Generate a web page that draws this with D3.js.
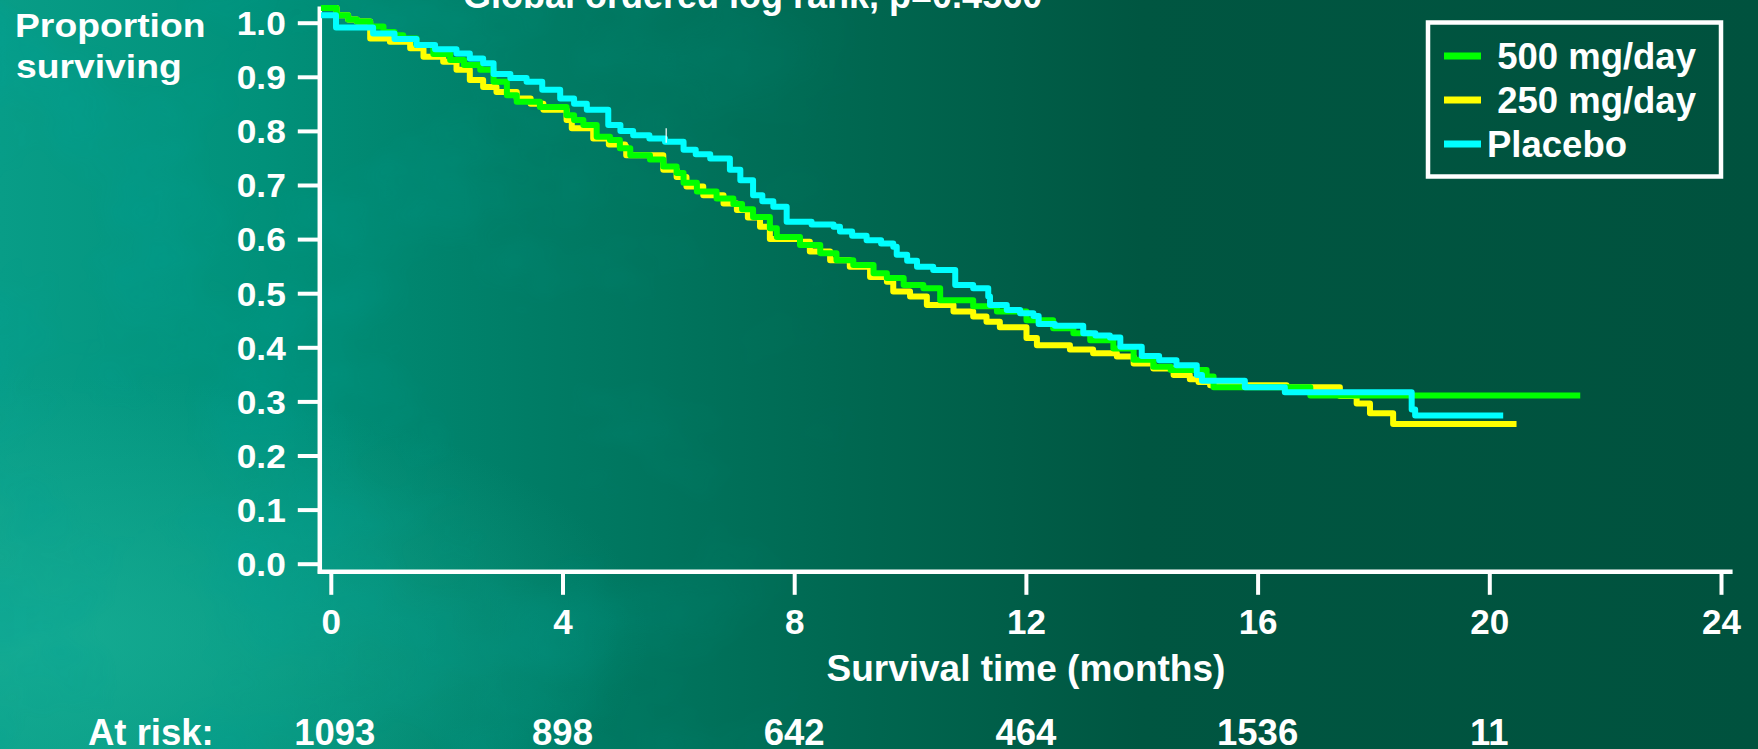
<!DOCTYPE html>
<html>
<head>
<meta charset="utf-8">
<script src="https://cdn.jsdelivr.net/npm/d3@7"></script>
<style>
  body { margin: 0; background: #00533f; overflow: hidden; }
  text { font-family: "Liberation Sans", Arial, sans-serif; font-weight: bold; fill: #fff; }
</style>
</head>
<body>
<div id="chart"></div>
<script>
// Kaplan-Meier steps: [month, proportion surviving]
const dose500 = [
  [-0.17, 1.027], [0.1, 1.014], [0.3, 1.006], [0.45, 1.002], [0.68, 0.993], [0.91, 0.983],
  [1.1, 0.977], [1.25, 0.971], [1.48, 0.959], [1.77, 0.942], [2.06, 0.931], [2.3, 0.922],
  [2.58, 0.913], [2.81, 0.891], [3.04, 0.866], [3.21, 0.854], [3.61, 0.844], [4.07, 0.829],
  [4.2, 0.82], [4.36, 0.811], [4.59, 0.789], [4.82, 0.783], [4.99, 0.768], [5.17, 0.755],
  [5.51, 0.747], [5.74, 0.734], [5.97, 0.722], [6.09, 0.704], [6.32, 0.688], [6.66, 0.675],
  [6.95, 0.665], [7.1, 0.655], [7.29, 0.641], [7.58, 0.62], [7.7, 0.604], [8.1, 0.589],
  [8.45, 0.574], [8.73, 0.561], [9.02, 0.552], [9.37, 0.537], [9.6, 0.528], [9.89, 0.515],
  [10.23, 0.509], [10.52, 0.487], [11.09, 0.476], [11.5, 0.466], [12.01, 0.45], [12.47, 0.435],
  [12.82, 0.426], [13.11, 0.413], [13.51, 0.398], [13.86, 0.377], [14.2, 0.364], [14.5, 0.358],
  [15.12, 0.346], [15.24, 0.326], [16.91, 0.311], [21.57, 0.311]
];
const dose250 = [
  [-0.17, 1.027], [0.1, 1.014], [0.3, 1.006], [0.45, 1.002], [0.68, 0.971], [1.02, 0.965],
  [1.37, 0.953], [1.6, 0.937], [1.94, 0.928], [2.17, 0.913], [2.4, 0.894], [2.63, 0.881],
  [2.86, 0.872], [3.21, 0.86], [3.45, 0.85], [3.67, 0.839], [4.07, 0.82], [4.16, 0.805],
  [4.53, 0.786], [4.8, 0.775], [5.08, 0.771], [5.1, 0.755], [5.74, 0.728], [5.97, 0.715],
  [6.14, 0.697], [6.43, 0.681], [6.78, 0.666], [7.01, 0.654], [7.2, 0.64], [7.41, 0.623],
  [7.58, 0.6], [8.1, 0.595], [8.27, 0.577], [8.62, 0.561], [8.96, 0.549], [9.31, 0.53],
  [9.6, 0.521], [9.71, 0.503], [10.0, 0.494], [10.29, 0.478], [10.75, 0.466], [11.09, 0.457],
  [11.32, 0.447], [11.55, 0.437], [12.01, 0.417], [12.19, 0.404], [12.76, 0.396], [13.16, 0.389],
  [13.57, 0.383], [13.86, 0.37], [14.2, 0.361], [14.55, 0.349], [14.83, 0.341], [14.98, 0.336],
  [15.18, 0.33], [16.5, 0.326], [17.42, 0.31], [17.71, 0.296], [17.94, 0.278], [18.34, 0.258],
  [20.47, 0.258]
];
const placebo = [
  [-0.17, 1.014], [0.09, 0.991], [0.73, 0.98], [1.1, 0.97], [1.48, 0.959], [1.8, 0.951],
  [2.17, 0.943], [2.4, 0.934], [2.63, 0.925], [2.81, 0.905], [3.1, 0.898], [3.38, 0.891],
  [3.65, 0.876], [3.96, 0.86], [4.2, 0.85], [4.42, 0.839], [4.79, 0.811], [5.0, 0.8],
  [5.22, 0.792], [5.5, 0.786], [5.77, 0.78], [6.09, 0.765], [6.3, 0.757], [6.55, 0.749],
  [6.89, 0.728], [7.07, 0.709], [7.29, 0.681], [7.45, 0.67], [7.64, 0.66], [7.87, 0.632],
  [8.3, 0.627], [8.68, 0.623], [8.79, 0.614], [9.0, 0.606], [9.25, 0.598], [9.5, 0.592],
  [9.71, 0.586], [9.77, 0.571], [9.95, 0.56], [10.12, 0.549], [10.4, 0.543], [10.78, 0.515],
  [11.09, 0.509], [11.35, 0.494], [11.38, 0.478], [11.67, 0.469], [11.9, 0.463], [12.13, 0.458],
  [12.22, 0.443], [12.5, 0.44], [12.99, 0.426], [13.2, 0.422], [13.45, 0.418], [13.63, 0.401],
  [14.0, 0.384], [14.3, 0.376], [14.6, 0.367], [14.95, 0.349], [15.04, 0.338], [15.78, 0.326],
  [16.47, 0.317], [18.66, 0.285], [18.72, 0.274], [20.24, 0.274]
];
// censored mark on the placebo curve: [month, low, high]
const censorMarks = [[5.79, 0.778, 0.805]];

const seriesNames = [' 500 mg/day', ' 250 mg/day', 'Placebo'];
const seriesColors = ['#00ff00', '#ffff00', '#00ffff'];
const xTicks = [0, 4, 8, 12, 16, 20, 24];
const yTicks = [0, 0.1, 0.2, 0.3, 0.4, 0.5, 0.6, 0.7, 0.8, 0.9, 1.0];
const atRisk = ['1093', '898', '642', '464', '1536', '11'];
const titleText = 'Global ordered log rank, p=0.4560';

const width = 1758;
const height = 749;

const svg = d3.select('#chart')
  .append('svg')
  .attr('width', width)
  .attr('height', height);

// background: teal on the left fading into dark green, with a cloudy texture
const defs = svg.append('defs');
const bg = defs.append('linearGradient').attr('id', 'bg').attr('x1', 0).attr('x2', 1).attr('y1', 0).attr('y2', 0);
[[0, '#089d87'], [0.15, '#01917a'], [0.3, '#007d66'], [0.5, '#00664f'], [0.65, '#005641'], [1, '#00523e']]
  .forEach(([o, c]) => bg.append('stop').attr('offset', o).attr('stop-color', c));

const glow = defs.append('radialGradient').attr('id', 'glow').attr('cx', 0.02).attr('cy', 0.85).attr('r', 0.35);
glow.append('stop').attr('offset', 0).attr('stop-color', '#1bb298').attr('stop-opacity', 0.7);
glow.append('stop').attr('offset', 1).attr('stop-color', '#1bb298').attr('stop-opacity', 0);

const fade = defs.append('linearGradient').attr('id', 'fade').attr('x1', 0).attr('x2', 1).attr('y1', 0).attr('y2', 0);
fade.append('stop').attr('offset', 0).attr('stop-color', '#fff').attr('stop-opacity', 1);
fade.append('stop').attr('offset', 0.3).attr('stop-color', '#fff').attr('stop-opacity', 0.5);
fade.append('stop').attr('offset', 0.5).attr('stop-color', '#fff').attr('stop-opacity', 0);
defs.append('mask').attr('id', 'fadeMask')
  .append('rect').attr('width', width).attr('height', height).attr('fill', 'url(#fade)');

const clouds = defs.append('filter').attr('id', 'clouds').attr('x', 0).attr('y', 0).attr('width', 1).attr('height', 1);
clouds.append('feTurbulence').attr('type', 'fractalNoise').attr('baseFrequency', '0.005 0.007')
  .attr('numOctaves', 4).attr('seed', 7);
clouds.append('feColorMatrix').attr('type', 'matrix')
  .attr('values', '0 0 0 0 0  0 0 0 0 0.35  0 0 0 0 0.3  0 0 0 -2.2 1.25');

svg.append('rect').attr('width', width).attr('height', height).attr('fill', 'url(#bg)');
svg.append('rect').attr('width', width).attr('height', height).attr('fill', 'url(#glow)');
svg.append('rect').attr('width', width).attr('height', height)
  .attr('filter', 'url(#clouds)').attr('mask', 'url(#fadeMask)').attr('opacity', 0.55);

const x = d3.scaleLinear().domain([0, 24]).range([330.8, 1721]);
const y = d3.scaleLinear().domain([0, 1]).range([563.7, 22.7]);

const axisX = x(-0.19);
const axisY = y(-0.015);

// the slide text on the axes is a little wider than Arial, so stretch it
function stretch(sel, sx, dx, dy) {
  sel.attr('transform', `translate(${dx},${dy}) scale(${sx},1)`).attr('x', 0).attr('y', 0);
}

// title, cut off at the top of the slide
svg.append('text')
  .attr('x', 463)
  .attr('y', 7.5)
  .attr('font-size', 36)
  .text(titleText);

// y axis
const yAxis = svg.append('g')
  .attr('transform', `translate(${axisX},0)`)
  .call(d3.axisLeft(y).tickValues(yTicks).tickSize(22).tickPadding(11).tickFormat(d3.format('.1f')));
yAxis.select('.domain').remove();
yAxis.selectAll('line').attr('stroke', '#fff').attr('stroke-width', 4);
yAxis.selectAll('text')
  .attr('font-size', 33)
  .attr('fill', '#fff')
  .attr('font-family', null)
  .attr('dy', '0.36em')
  .call(stretch, 1.07, -34, 0);

// x axis
const xAxis = svg.append('g')
  .attr('transform', `translate(0,${axisY})`)
  .call(d3.axisBottom(x).tickValues(xTicks).tickSize(23).tickPadding(14));
xAxis.select('.domain').remove();
xAxis.selectAll('line').attr('stroke', '#fff').attr('stroke-width', 4);
xAxis.selectAll('text').attr('font-size', 35).attr('fill', '#fff').attr('font-family', null);

svg.append('line')
  .attr('x1', axisX).attr('x2', axisX)
  .attr('y1', y(1.03)).attr('y2', axisY + 2)
  .attr('stroke', '#fff').attr('stroke-width', 4.5);
svg.append('line')
  .attr('x1', axisX - 2).attr('x2', x(24.2))
  .attr('y1', axisY).attr('y2', axisY)
  .attr('stroke', '#fff').attr('stroke-width', 4.5);

// axis titles
svg.append('text').attr('font-size', 33).text('Proportion').call(stretch, 1.13, 15, 36.7);
svg.append('text').attr('font-size', 33).text('surviving').call(stretch, 1.13, 16, 78);

svg.append('text')
  .attr('x', x(12))
  .attr('y', 681)
  .attr('text-anchor', 'middle')
  .attr('font-size', 37)
  .text('Survival time (months)');

// numbers at risk
svg.append('text')
  .attr('x', 88)
  .attr('y', 745)
  .attr('font-size', 36.5)
  .text('At risk:');
svg.selectAll('.risk')
  .data(atRisk)
  .enter()
  .append('text')
  .attr('class', 'risk')
  .attr('x', (d, i) => x(xTicks[i]) + (i === 0 ? 4 : 0))
  .attr('y', 745)
  .attr('text-anchor', 'middle')
  .attr('font-size', 36.5)
  .text((d) => d);

// survival curves, placebo drawn last (on top)
const line = d3.line()
  .x((d) => x(d[0]))
  .y((d) => y(d[1]))
  .curve(d3.curveStepAfter);

[[dose250, 1], [dose500, 0], [placebo, 2]].forEach(([data, i]) => {
  svg.append('path')
    .datum(data)
    .attr('fill', 'none')
    .attr('stroke', seriesColors[i])
    .attr('stroke-width', 6)
    .attr('stroke-linejoin', 'round')
    .attr('d', line);
});

svg.selectAll('.censor')
  .data(censorMarks)
  .enter()
  .append('line')
  .attr('class', 'censor')
  .attr('x1', (d) => x(d[0])).attr('x2', (d) => x(d[0]))
  .attr('y1', (d) => y(d[1])).attr('y2', (d) => y(d[2]))
  .attr('stroke', '#fff')
  .attr('stroke-width', 1.2);

// legend
const legend = svg.append('g').attr('transform', 'translate(1428,22.5)');
legend.append('rect')
  .attr('width', 293)
  .attr('height', 154)
  .attr('fill', 'none')
  .attr('stroke', '#fff')
  .attr('stroke-width', 4.5);
const item = legend.selectAll('.legend-item')
  .data(seriesNames)
  .enter()
  .append('g')
  .attr('class', 'legend-item')
  .attr('transform', (d, i) => `translate(0,${33.5 + i * 44})`);
item.append('line')
  .attr('x1', 16).attr('x2', 53)
  .attr('stroke', (d, i) => seriesColors[i])
  .attr('stroke-width', 7);
item.append('text')
  .attr('x', 59)
  .attr('y', 13)
  .attr('font-size', 36.5)
  .attr('xml:space', 'preserve')
  .style('white-space', 'pre')
  .text((d) => d);
</script>
</body>
</html>
